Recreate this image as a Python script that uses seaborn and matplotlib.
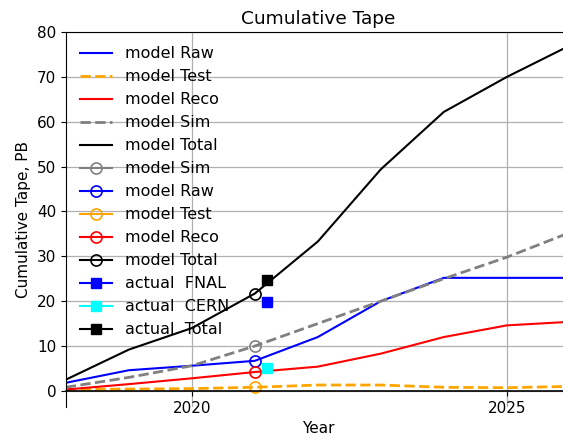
import matplotlib
matplotlib.use("Agg")
import matplotlib.pyplot as plt
import seaborn as sns

# model curves, one value per year
years = [2018, 2019, 2020, 2021, 2022, 2023, 2024, 2025, 2026]
raw = [1.8, 4.6, 5.6, 6.7, 12.0, 20.0, 25.2, 25.2, 25.2]
test = [0.3, 0.4, 0.5, 0.8, 1.3, 1.3, 0.8, 0.7, 1.0]
reco = [0.3, 1.5, 2.8, 4.2, 5.4, 8.3, 12.0, 14.6, 15.4]
sim = [0.8, 3.0, 5.6, 10.0, 15.0, 20.0, 25.0, 29.8, 35.3]
total = [2.5, 9.2, 14.0, 21.7, 33.3, 49.4, 62.2, 70.0, 77.0]

# model snapshot in 2021 (open circles)
snap_year = [2021]
snap_sim = [10.0]
snap_raw = [6.7]
snap_test = [0.8]
snap_reco = [4.2]
snap_total = [21.7]

# actual usage
act_year = [2021.2]
act_fnal = [19.9]
act_cern = [5.1]
act_total = [24.8]

fig = plt.figure(figsize=(5.63, 4.4), dpi=100)
ax = fig.add_axes([0.117, 0.075, 1.012 - 0.117, 0.927 - 0.075])

sns.lineplot(x=years, y=raw, color="blue", label="model Raw", ax=ax)
sns.lineplot(x=years, y=test, color="orange", linestyle="--", linewidth=2, label="model Test", ax=ax)
sns.lineplot(x=years, y=reco, color="red", label="model Reco", ax=ax)
sns.lineplot(x=years, y=sim, color="gray", linestyle="--", linewidth=2, label="model Sim", ax=ax)
sns.lineplot(x=years, y=total, color="black", label="model Total", ax=ax)

# single points: plain ax.plot so markers keep their style
circ = dict(marker="o", mfc="none", markersize=8, mew=1.2, linestyle="-")
ax.plot(snap_year, snap_sim, color="gray", label="model Sim", **circ)
ax.plot(snap_year, snap_raw, color="blue", label="model Raw", **circ)
ax.plot(snap_year, snap_test, color="orange", label="model Test", **circ)
ax.plot(snap_year, snap_reco, color="red", label="model Reco", **circ)
ax.plot(snap_year, snap_total, color="black", label="model Total", **circ)

sq = dict(marker="s", markersize=7, linestyle="-")
ax.plot(act_year, act_fnal, color="blue", label="actual  FNAL", **sq)
ax.plot(act_year, act_cern, color="cyan", label="actual  CERN", **sq)
ax.plot(act_year, act_total, color="black", label="actual  Total", **sq)

ax.set_xlim(2018, 2026)
ax.set_ylim(-3.6, 80)
ax.set_xticks([2020, 2025])
ax.set_yticks(range(0, 81, 10))
ax.spines["bottom"].set_position("zero")
ax.spines["bottom"].set_linewidth(1.2)
ax.grid(True, color="#b0b0b0", linewidth=0.9)
ax.tick_params(labelsize=11)
ax.set_xlabel("Year", fontsize=11)
ax.set_ylabel("Cumulative Tape, PB", fontsize=11)
ax.set_title("Cumulative Tape", fontsize=13.3)
ax.legend(loc="upper left", frameon=False, fontsize=11.5)

fig.savefig("out.png", dpi=100)
